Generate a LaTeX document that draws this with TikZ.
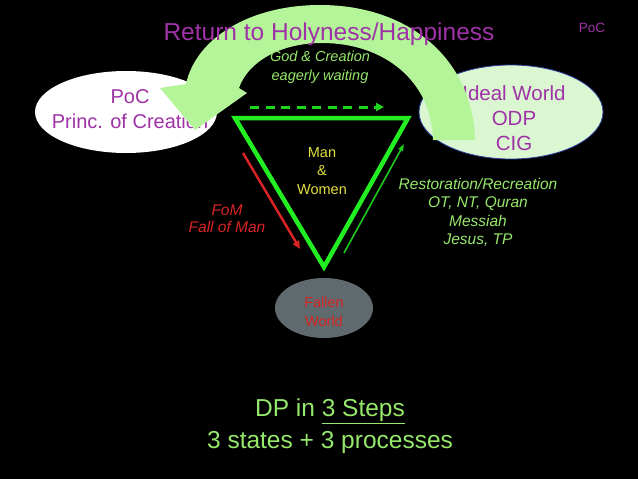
\documentclass[tikz,border=0pt]{standalone}
\usepackage{fontspec}
\setmainfont{Liberation Sans}
\usetikzlibrary{arrows.meta}
\definecolor{bgk}{HTML}{000000}
\definecolor{purp}{HTML}{A032A8}
\definecolor{arcgreen}{HTML}{B4F59A}
\definecolor{trigreen}{HTML}{22EE22}
\definecolor{txtgreen}{HTML}{96E86A}
\definecolor{redtxt}{HTML}{D82424}
\definecolor{yel}{HTML}{E4E040}
\definecolor{fallgray}{HTML}{5E6A6E}
\definecolor{idealfill}{HTML}{DAF7D2}
\definecolor{idealedge}{HTML}{3040A0}
\tikzset{
  fs/.style={font=\fontsize{#1}{#1*1.2}\selectfont},
  lbl/.style={align=center, inner sep=0pt},
  state/.style={ellipse, draw=none},
}
\usetikzlibrary{shapes.geometric}
\begin{document}
\begin{tikzpicture}[x=1pt,y=-1pt]
\fill[bgk] (0,0) rectangle (638,479);
\useasboundingbox (0,0) rectangle (638,479);
% state ellipses
\node[state, fill=white, minimum width=182pt, minimum height=82pt] (poc) at (126,112) {};
\node[state, fill=idealfill, draw=idealedge, line width=0.8pt, minimum width=184pt, minimum height=94pt] (ideal) at (511,112) {};
\node[state, fill=fallgray, minimum width=98pt, minimum height=60pt] (fallen) at (324,308) {};
% ellipse texts
\node[lbl, text=purp, font=\fontsize{20}{25}\selectfont] (poct) at (130,109.5) {PoC\\Princ. of Creation};
\node[lbl, text=purp, font=\fontsize{20.5}{25}\selectfont] (idealt) at (514,118) {Ideal World\\ODP\\CIG};
\node[lbl, text=redtxt, font=\fontsize{14.5}{19}\selectfont] (fallent) at (324,311.5) {Fallen\\World};
% big curved arrow
\fill[arcgreen] (475,140) .. controls (473,60) and (410,5) .. (320,5)
  .. controls (250,5) and (196,38) .. (186,84)
  -- (160,88) -- (195,130) -- (247,93) -- (239,88)
  .. controls (248,62) and (280,43) .. (322,43)
  .. controls (385,43) and (432,82) .. (433,140) -- cycle;
% triangle
\coordinate (tl) at (235,118);
\coordinate (tr) at (408,118);
\coordinate (bt) at (324,267);
\draw[trigreen, line width=4.5pt, line join=miter] (tl) -- (tr) -- (bt) -- cycle;
% dashed arrow
\coordinate (da) at (250,107);
\coordinate (db) at (384,107);
\draw[trigreen!90!black, line width=3pt, dash pattern=on 9pt off 6.5pt, -{Triangle[length=8pt,width=8pt]}] (da) -- (db);
% red fall arrow
\coordinate (ra) at (243,153);
\coordinate (rb) at (300,249);
\draw[redtxt, line width=2.5pt, -{Triangle[length=8pt,width=7pt]}] (ra) -- (rb);
% green restoration arrow
\coordinate (ga) at (344,253);
\coordinate (gb) at (404,144);
\draw[trigreen!85!black, line width=1.6pt, -{Triangle[length=7pt,width=5pt]}] (ga) -- (gb);
% texts
\node[lbl, text=purp, font=\fontsize{24.5}{29}\selectfont] (title) at (329,34) {Return to Holyness/Happiness};
\node[lbl, text=purp, font=\fontsize{13.5}{16}\selectfont] (poc2) at (592,28) {PoC};
\node[lbl, text=txtgreen, font=\fontsize{14.5}{19}\selectfont\itshape] (god) at (320,67.5) {God \& Creation\\eagerly waiting};
\node[lbl, text=yel, font=\fontsize{14.5}{18.5}\selectfont] (man) at (322,171) {Man\\\&\\Women};
\node[lbl, text=redtxt, font=\fontsize{15.5}{17.5}\selectfont\itshape] (fom) at (227,218.5) {FoM\\Fall of Man};
\node[lbl, text=txtgreen, font=\fontsize{15.5}{18.3}\selectfont\itshape] (rest) at (478,212.5) {Restoration/Recreation\\OT, NT, Quran\\Messiah\\Jesus, TP};
\node[lbl, text=txtgreen, font=\fontsize{24.5}{32}\selectfont] (dp) at (330,426) {DP in \underline{3 Steps}\\3 states + 3 processes};
\end{tikzpicture}
\end{document}
